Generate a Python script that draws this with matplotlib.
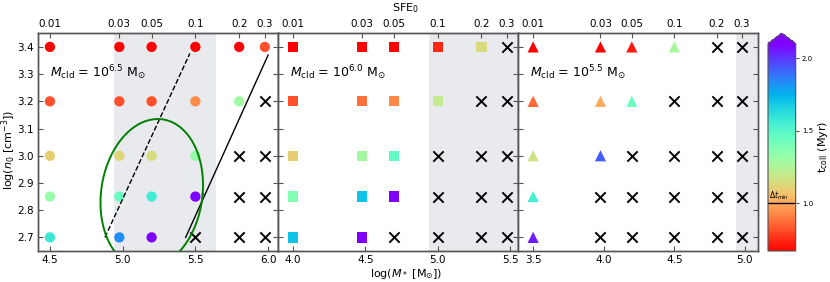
import numpy as np
import matplotlib
matplotlib.use("Agg")
import matplotlib.pyplot as plt
from matplotlib.colors import Normalize
from matplotlib.cm import ScalarMappable

# ---------------- data ----------------
log_n0 = [3.4, 3.2, 3.0, 2.85, 2.7]
sfe0 = [0.01, 0.03, 0.05, 0.1, 0.2, 0.3]
sfe_labels = ["0.01", "0.03", "0.05", "0.1", "0.2", "0.3"]
log_mcld = [6.5, 6.0, 5.5]
mcld_labels = ["6.5", "6.0", "5.5"]
markers = ["o", "s", "^"]
nan = np.nan

# t_coll (Myr); rows = log_n0, cols = sfe0; nan = no collapse (x)
tcoll_65 = [
    [0.60, 0.60, 0.60, 0.62, 0.62, 0.82],
    [0.82, 0.82, 0.82, 0.93, 1.30, nan],
    [1.10, 1.12, 1.15, 1.33, nan, nan],
    [1.32, 1.45, 1.56, 2.30, nan, nan],
    [1.58, 1.83, 2.30, nan, nan, nan],
]
tcoll_60 = [
    [0.60, 0.60, 0.62, 0.74, 1.14, nan],
    [0.82, 0.88, 0.93, 1.20, nan, nan],
    [1.10, 1.28, 1.47, nan, nan, nan],
    [1.38, 1.70, 2.30, nan, nan, nan],
    [1.70, 2.30, nan, nan, nan, nan],
]
tcoll_55 = [
    [0.60, 0.62, 0.72, 1.27, nan, nan],
    [0.86, 1.00, 1.45, nan, nan, nan],
    [1.17, 1.93, nan, nan, nan, nan],
    [1.55, nan, nan, nan, nan, nan],
    [2.05, nan, nan, nan, nan, nan],
]
tcoll_all = [tcoll_65, tcoll_60, tcoll_55]

xlims = [(4.42, 6.07), (3.90, 5.555), (3.395, 5.095)]
shade_band = (4.94, 5.645)
dt_min = 1.0
vmin, vmax = 0.67, 2.1

# annotation lines in first panel (x, y endpoints)
dash_x, dash_y = [4.878, 5.462], [2.70, 3.376]
solid_x, solid_y = [5.433, 6.0], [2.70, 3.37]
# ellipse parameters
ell_cx, ell_cy, ell_a, ell_b, ell_shear = 5.20, 2.86, 0.35, 0.275, 0.15

# ---------------- figure ----------------
fig = plt.figure(figsize=(8.3, 2.82), dpi=100)
cmap = plt.get_cmap("rainbow_r")
norm = Normalize(vmin=vmin, vmax=vmax)

ax_left = 38.3 / 830
ax_w = 240.0 / 830
ax_b = 1 - 251.0 / 282
ax_h = (251.0 - 33.3) / 282
spine_col = "#555555"
tfs = 7.5

axes = []
for i in range(3):
    ax = fig.add_axes([ax_left + i * ax_w, ax_b, ax_w, ax_h])
    axes.append(ax)
    ax.set_xlim(*xlims[i])
    ax.set_ylim(2.65, 3.45)
    ax.axvspan(shade_band[0], shade_band[1], color="#e9eaed", zorder=0, lw=0)
    t = np.array(tcoll_all[i], dtype=float)
    xs = np.log10(sfe0) + log_mcld[i]
    X, Y = np.meshgrid(xs, log_n0)
    ok = ~np.isnan(t)
    ax.scatter(X[ok], Y[ok], c=t[ok], cmap=cmap, norm=norm, marker=markers[i],
               s=55 if markers[i] != "^" else 65, edgecolors="none", zorder=3)
    ax.scatter(X[~ok], Y[~ok], marker="x", color="k", s=55, linewidths=1.4, zorder=3)
    ax.text(0.05, 0.82, r"$M_{\rm cld}$ = 10$^{%s}$ M$_{\odot}$" % mcld_labels[i],
            transform=ax.transAxes, ha="left", va="center", fontsize=9)
    # ticks
    lo = np.ceil(xlims[i][0] * 2) / 2
    ax.set_xticks(np.arange(lo, xlims[i][1] + 1e-6, 0.5))
    ax.set_yticks(np.arange(2.7, 3.41, 0.1))
    ax.tick_params(direction="in", labelsize=tfs, right=True, length=3.5,
                   color=spine_col, pad=3)
    if i > 0:
        ax.tick_params(labelleft=False)
    ax.yaxis.set_major_formatter(matplotlib.ticker.FormatStrFormatter("%.1f"))
    ax.xaxis.set_major_formatter(matplotlib.ticker.FormatStrFormatter("%.1f"))
    for sp in ax.spines.values():
        sp.set_color(spine_col)
        sp.set_linewidth(1.0)
    top = ax.twiny()
    top.set_xlim(*xlims[i])
    top.set_xticks(xs)
    top.set_xticklabels(sfe_labels)
    top.tick_params(direction="in", labelsize=tfs, length=3.5, color=spine_col, pad=3)
    for sp in top.spines.values():
        sp.set_color(spine_col)
        sp.set_linewidth(1.0)

ax1 = axes[0]
ax1.plot(dash_x, dash_y, color="k", ls="--", lw=1.0, zorder=4)
ax1.plot(solid_x, solid_y, color="k", ls="-", lw=1.0, zorder=4)
tt = np.linspace(0, 2 * np.pi, 300)
ex = ell_cx + ell_a * np.cos(tt) + ell_shear * ell_b * np.sin(tt)
ey = ell_cy + ell_b * np.sin(tt)
ax1.plot(ex, ey, color="green", lw=1.4, zorder=4)

fig.text(8.5 / 830, 0.47, r"log($n_0$ [cm$^{-3}$])", rotation=90, ha="center",
         va="center", fontsize=8)
fig.text(405.8 / 830, 1 - 274.0 / 282, r"log($M_*$ [M$_{\odot}$])", ha="center",
         va="center", fontsize=8)
fig.text(405.0 / 830, 1 - 8.5 / 282, r"SFE$_0$", ha="center", va="center",
         fontsize=8)

# colorbar
cax = fig.add_axes([768.0 / 830, ax_b, 27.7 / 830, ax_h])
sm = ScalarMappable(norm=norm, cmap=cmap)
cb = fig.colorbar(sm, cax=cax, extend="max", ticks=[1.0, 1.5, 2.0])
cb.outline.set_edgecolor(spine_col)
cb.ax.tick_params(labelsize=5, length=2.5, color=spine_col, pad=2)
cb.ax.yaxis.set_major_formatter(matplotlib.ticker.FormatStrFormatter("%.1f"))
cb.set_label(r"t$_{\rm coll}$ (Myr)", fontsize=8, labelpad=2)
cax.axhline(dt_min, color="k", lw=1.0)
cax.text(0.03, dt_min + 0.01, r"$\Delta t_{\rm min}$", transform=cax.get_yaxis_transform(),
         ha="left", va="bottom", fontsize=5.5)

fig.savefig("out.png", dpi=100)
